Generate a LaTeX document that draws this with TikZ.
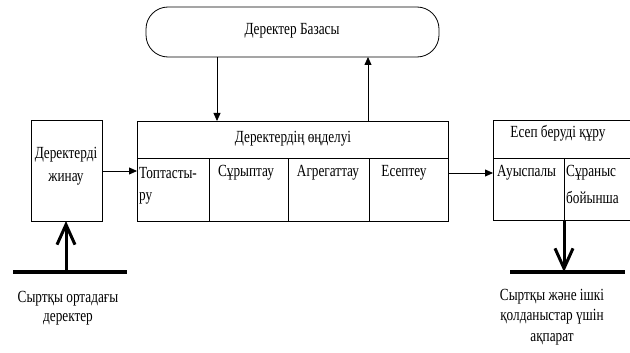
\documentclass[tikz,border=0pt]{standalone}
\usepackage{fontspec}
\setmainfont{Liberation Serif}[FakeStretch=0.78]
\usetikzlibrary{arrows.meta}
\begin{document}
\begin{tikzpicture}[x=1pt,y=-1pt,
  lbl/.style={font=\fontsize{17}{19}\selectfont, inner sep=0},
  thin/.style={line width=0.8pt},
  tri/.style={thin, -{Triangle[length=8pt,width=7pt]}},
  bar/.style={line width=3.5pt},
  big/.style={line width=3pt, -{Straight Barb[length=20pt,width=18pt,line width=3pt]}}]
\useasboundingbox (0,0) rectangle (630,353);
% database
\draw[thin, rounded corners=22pt] (146,7) rectangle (439,57);
\node[lbl] (dbt) at (292,31) {Деректер Базасы};
\coordinate (dbS1) at (217,57);
\coordinate (dbS2) at (368,57);
% left box
\draw[thin] (31,120) rectangle (102,221);
\coordinate (lbE) at (102,171);
\coordinate (lbS) at (66,221);
\node[lbl, align=center, font=\fontsize{17}{23}\selectfont] (lbt) at (66,166) {Деректерді\\жинау};
% main box
\draw[thin] (137,121) rectangle (448,221);
\draw[thin] (137,158) -- (448,158);
\draw[thin] (209,158) -- (209,221) (288,158) -- (288,221) (369,158) -- (369,221);
\coordinate (mW) at (137,171);
\coordinate (mE) at (448,173);
\coordinate (mN1) at (217,121);
\coordinate (mN2) at (368,121);
\node[lbl] (mt) at (293,139) {Деректердің өңделуі};
\node[lbl, anchor=west] (c1a) at (139,173) {Топтасты-};
\node[lbl, anchor=west] (c1b) at (139,198) {ру};
\node[lbl] (c2) at (246,173) {Сұрыптау};
\node[lbl] (c3) at (328,173) {Агрегаттау};
\node[lbl] (c4) at (404,173) {Есептеу};
% report box
\draw[thin] (636,120) -- (493,120) -- (493,220) -- (636,220);
\draw[thin] (493,158) -- (636,158);
\draw[thin] (564,158) -- (564,220);
\coordinate (rW) at (493,173);
\coordinate (rS) at (564,220);
\node[lbl] (rt) at (558,133) {Есеп беруді құру};
\node[lbl, anchor=west] (r1) at (497,173) {Ауыспалы};
\node[lbl, anchor=west] (r2a) at (566,173) {Сұраныс};
\node[lbl, anchor=west] (r2b) at (566,197) {бойынша};
% arrows
\draw[tri] (dbS1) -- (mN1);
\draw[tri] (mN2) -- (dbS2);
\draw[tri] (lbE) -- (mW);
\draw[tri] (mE) -- (rW);
% bottom
\coordinate (b1L) at (13,272);
\coordinate (b1R) at (127,272);
\coordinate (b1M) at (66,272);
\draw[bar] (b1L) -- (b1R);
\draw[big] (b1M) -- (lbS);
\coordinate (b2L) at (510,272);
\coordinate (b2R) at (625,272);
\coordinate (b2M) at (564,272);
\draw[bar] (b2L) -- (b2R);
\draw[big] (rS) -- (b2M);
\node[lbl, align=center] (t1) at (68,308) {Сыртқы ортадағы\\деректер};
\node[lbl, align=center, font=\fontsize{17}{20.5}\selectfont] (t2) at (552,317) {Сыртқы және ішкі\\қолданыстар үшін\\ақпарат};
\end{tikzpicture}
\end{document}
